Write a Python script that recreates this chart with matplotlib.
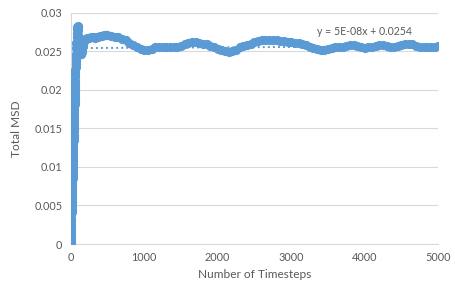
import matplotlib
matplotlib.use('Agg')
import matplotlib.pyplot as plt

plt.rcParams['font.family'] = ['Lato', 'DejaVu Sans']

# MSD vs timesteps
# steep start (every timestep)
rise_steps = list(range(0, 72))
rise_msd = [0.0001, 0.0003, 0.0006, 0.0009, 0.0012, 0.0016, 0.0019, 0.0023, 0.0026, 0.0030,
            0.0033, 0.0037, 0.0041, 0.0044, 0.0048, 0.0051, 0.0055, 0.0058, 0.0062, 0.0065,
            0.0069, 0.0072, 0.0076, 0.0079, 0.0083, 0.0086, 0.0090, 0.0093, 0.0097, 0.0100,
            0.0104, 0.0107, 0.0111, 0.0114, 0.0118, 0.0121, 0.0125, 0.0128, 0.0132, 0.0135,
            0.0139, 0.0142, 0.0146, 0.0149, 0.0153, 0.0156, 0.0160, 0.0163, 0.0167, 0.0170,
            0.0174, 0.0177, 0.0181, 0.0184, 0.0188, 0.0191, 0.0195, 0.0198, 0.0202, 0.0205,
            0.0209, 0.0212, 0.0216, 0.0219, 0.0223, 0.0226, 0.0230, 0.0233, 0.0237, 0.0240,
            0.0244, 0.0247]

timesteps = rise_steps + [
    75, 78, 81, 84, 87, 90, 93, 96, 99, 102, 106, 110, 115, 120, 128, 135, 143, 150,
    158, 165, 172, 180, 190, 200,
    225, 250, 275, 300, 325, 350, 375, 400, 425, 450, 475, 500, 550, 600, 650, 700,
    750, 800, 850, 900, 950,
    1000, 1050, 1100, 1150, 1200, 1250, 1300, 1350, 1400, 1450, 1500, 1550,
    1600, 1650, 1700, 1750, 1800, 1850, 1900, 1950, 2000, 2050, 2100, 2150,
    2200, 2250, 2300, 2350, 2400, 2450, 2500, 2550, 2600, 2650, 2700, 2750,
    2800, 2850, 2900, 2950, 3000, 3050, 3100, 3150, 3200, 3250, 3300, 3350,
    3400, 3450, 3500, 3550, 3600, 3650, 3700, 3750, 3800, 3850, 3900, 3950,
    4000, 4050, 4100, 4150, 4200, 4250, 4300, 4350, 4400, 4450, 4500, 4550,
    4600, 4650, 4700, 4750, 4800, 4850, 4900, 4950, 5000]
msd = rise_msd + [
    0.0254, 0.0261, 0.0268, 0.0274, 0.0279, 0.0282, 0.0283, 0.0281, 0.0277, 0.0271,
    0.0264, 0.0257, 0.0251, 0.0248, 0.0246, 0.0246, 0.0247, 0.0249, 0.0253, 0.0257,
    0.0260, 0.0263, 0.0265, 0.0266,
    0.0267, 0.0267, 0.0268, 0.0268, 0.0267, 0.0268, 0.0269, 0.0270, 0.0270, 0.0271,
    0.0271, 0.0271, 0.0270, 0.0269, 0.0268, 0.0266,
    0.0264, 0.0261, 0.0258, 0.0256, 0.0253,
    0.0252, 0.0252, 0.0253, 0.0255, 0.0256, 0.0256, 0.0256, 0.0255, 0.0256, 0.0256,
    0.0257, 0.0259, 0.0261, 0.0262, 0.0262, 0.0261, 0.0260, 0.0259, 0.0257, 0.0255,
    0.0253, 0.0251, 0.0250, 0.0249, 0.0250, 0.0252, 0.0255, 0.0257, 0.0258, 0.0260,
    0.0262, 0.0263, 0.0264, 0.0265, 0.0265, 0.0264, 0.0264, 0.0263, 0.0263, 0.0262,
    0.0262, 0.0261, 0.0261, 0.0259, 0.0258, 0.0256, 0.0254, 0.0253, 0.0252, 0.0252,
    0.0253, 0.0254, 0.0255, 0.0255, 0.0256, 0.0257, 0.0258, 0.0258, 0.0257, 0.0255,
    0.0254, 0.0255, 0.0256, 0.0257, 0.0258, 0.0258, 0.0257, 0.0256, 0.0256, 0.0257,
    0.0258, 0.0259, 0.0260, 0.0259, 0.0257, 0.0255, 0.0255, 0.0256, 0.0256, 0.0256,
    0.0257]

trend_slope = 5e-08
trend_intercept = 0.0254
trend_label = 'y = 5E-08x + 0.0254'

x_ticks = [0, 1000, 2000, 3000, 4000, 5000]
y_ticks = [0, 0.005, 0.01, 0.015, 0.02, 0.025, 0.03]
y_tick_labels = ['0', '0.005', '0.01', '0.015', '0.02', '0.025', '0.03']

blue = '#5B9BD5'
grey_text = '#595959'

fig = plt.figure(figsize=(4.56, 2.91), dpi=100)
ax = fig.add_axes([0.155, 0.1615, 0.806, 0.795])

ax.plot(timesteps, msd, linestyle='none', marker='o', ms=5.6,
        color=blue, mec=blue, zorder=3)

trend_x = [x_ticks[0], x_ticks[-1]]
trend_y = [trend_intercept + trend_slope * v for v in trend_x]
ax.plot(trend_x, trend_y, color=blue, lw=1.4, linestyle=(0, (1, 1.6)), zorder=2)

ax.text(4000, 0.0276, trend_label, ha='center', va='center',
        fontsize=7.6, color=grey_text)

ax.set_xlim(x_ticks[0], x_ticks[-1])
ax.set_ylim(y_ticks[0], y_ticks[-1])
ax.set_xticks(x_ticks)
ax.set_yticks(y_ticks)
ax.set_yticklabels(y_tick_labels)
ax.tick_params(length=0, labelsize=7.8, labelcolor=grey_text, pad=6)
ax.grid(axis='y', color='#D9D9D9', lw=0.8)
ax.set_axisbelow(True)

for side in ['top', 'right']:
    ax.spines[side].set_visible(False)
ax.spines['left'].set_color('#D9D9D9')
ax.spines['left'].set_linewidth(0.8)
ax.spines['bottom'].set_color('#D9D9D9')
ax.spines['bottom'].set_linewidth(0.8)

ax.set_xlabel('Number of Timesteps', fontsize=8.6, color=grey_text, labelpad=4)
ax.set_ylabel('Total MSD', fontsize=8.6, color=grey_text, labelpad=9)

fig.savefig('out.png', dpi=100)
